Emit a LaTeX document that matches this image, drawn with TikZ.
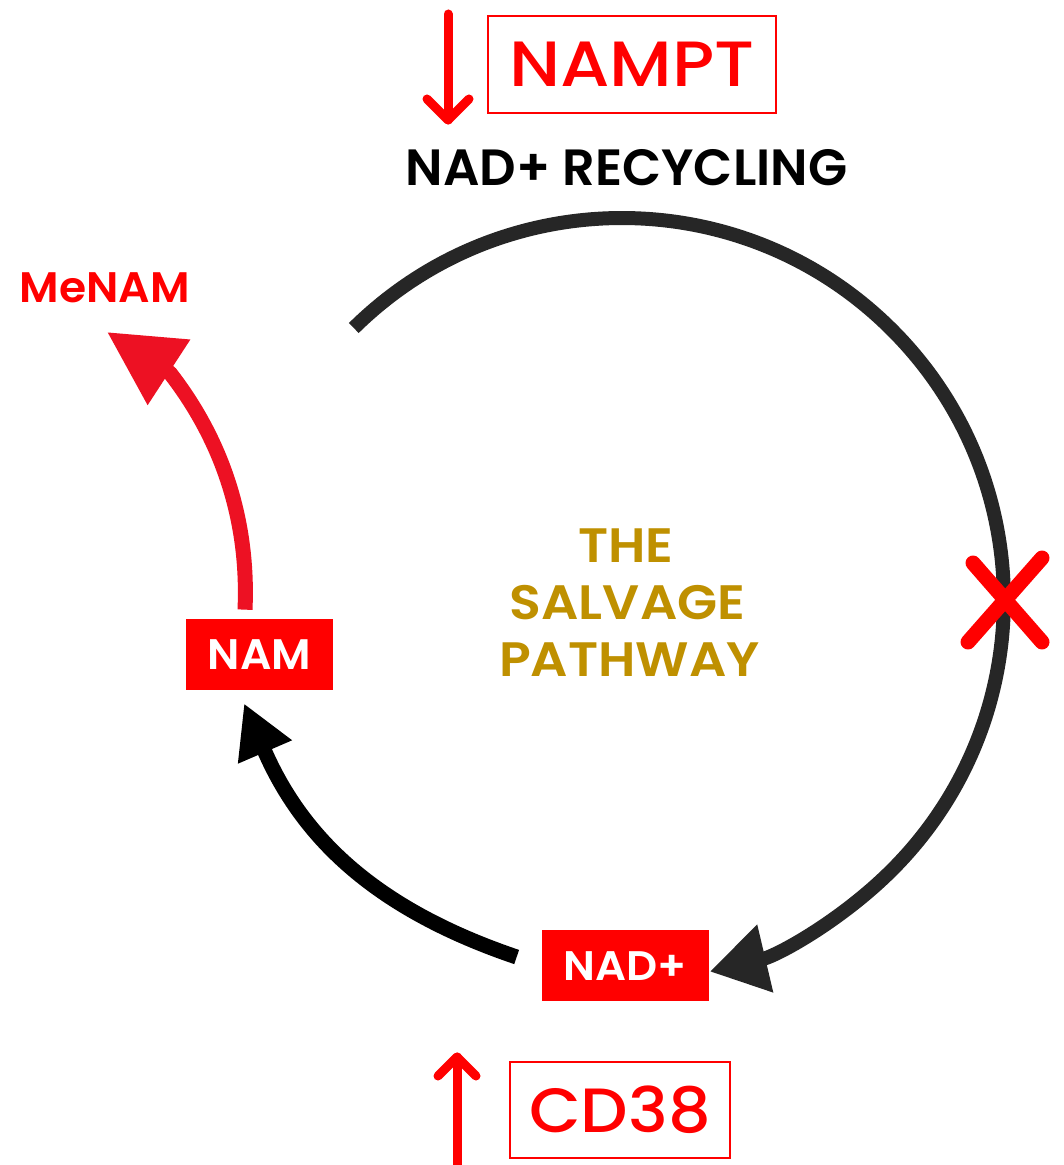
\documentclass[tikz,border=0pt]{standalone}
\usepackage{fontspec}
\setmainfont{Poppins}
\newfontfamily\pmedA{Poppins Medium}[FakeStretch=1.11]
\newfontfamily\pmedB{Poppins Medium}[FakeStretch=1.07]
\newfontfamily\psemi{Poppins SemiBold}
\newfontfamily\psemiA{Poppins SemiBold}[FakeStretch=1.03]
\newfontfamily\psemiB{Poppins SemiBold}[FakeStretch=1.05]
\newfontfamily\psemiG{Poppins SemiBold}[FakeStretch=1.08]
\usetikzlibrary{arrows.meta,calc}
\definecolor{boxred}{RGB}{255,0,0}
\definecolor{arrred}{RGB}{237,17,35}
\definecolor{goldtxt}{RGB}{191,144,0}
\definecolor{darkarc}{RGB}{38,38,38}
\newdimen\pxu \pxu=0.02cm
\newcommand\fsz[1]{\fontsize{#1}{#1}\selectfont}
\begin{document}
\begin{tikzpicture}[x=0.02cm,y=-0.02cm,
  lbl/.style={inner sep=0pt, text depth=0pt},
  outbox/.style={lbl, draw=boxred, line width=1.5\pxu, text=boxred},
  fillbox/.style={lbl, fill=boxred, text=white},
  goldlbl/.style={lbl, text=goldtxt, text height=34\pxu, font=\psemiG\fsz{27.5pt}},
  updown/.style={draw=boxred, line width=9\pxu, line cap=round, line join=round},
  xmark/.style={draw=boxred, line width=15\pxu, line cap=round},
  redarr/.style={draw=arrred, line width=15\pxu, line join=round}
]
\fill[white] (0,0) rectangle (1063,1165);
\useasboundingbox (0,0) rectangle (1063,1165);

% boxes and labels
\node[outbox, minimum width=288\pxu, minimum height=97\pxu, text height=45\pxu,
      font=\pmedA\fsz{36.4pt}] (NAMPT) at (632,64.5) {NAMPT};
\node[lbl, text=black, text height=36\pxu, font=\psemi\fsz{29pt}] (REC) at (626.5,168) {NAD+ RECYCLING};
\node[lbl, text=boxred, text height=30\pxu, font=\psemiA\fsz{24.3pt}] (MeNAM) at (105,288) {MeNAM};
\node[fillbox, minimum width=147\pxu, minimum height=71\pxu, text height=30\pxu,
      font=\psemiA\fsz{24.3pt}] (NAM) at (259.5,654.5) {NAM};
\node[fillbox, minimum width=167\pxu, minimum height=71\pxu, text height=29\pxu,
      font=\psemiB\fsz{23.5pt}] (NAD) at (625.5,965.5) {NAD+};
\node[outbox, minimum width=220\pxu, minimum height=96\pxu, text height=44\pxu,
      font=\pmedB\fsz{35.6pt}] (CD38) at (620,1110) {CD38};
\node[goldlbl] (THE) at (626,545) {THE};
\node[goldlbl] (SALV) at (627.5,602.5) {SALVAGE};
\node[goldlbl] (PATH) at (629.5,659) {PATHWAY};

% down arrow (NAMPT) and up arrow (CD38)
\coordinate (dtop) at (448,14);
\coordinate (dtip) at (448,120);
\draw[updown] (dtop) -- (dtip);
\draw[updown] (427,99) -- (dtip) -- (469,99);
\coordinate (ubot) at (457,1180);
\coordinate (utip) at (457,1057);
\draw[updown] (ubot) -- (utip);
\draw[updown] (438,1076) -- (utip) -- (476,1076);

% recycling arc
\coordinate (recstart) at (353.8,328);
\draw[line width=14\pxu, draw=darkarc, -{Triangle[length=1.14cm, width=1.32cm]}]
  (recstart) arc[start angle=134.6, end angle=-76.7, radius=7.64cm];

% NAD+ -> NAM
\draw[line width=15\pxu, draw=black, -{Triangle[length=1.06cm, width=1.10cm]}]
  ($(NAD.west)+(-25,-8.5)$) .. controls (378,910) and (303,840) .. ($(NAM.south)+(-15.5,13)$);

% NAM -> MeNAM
\coordinate (menamtip) at (107,332);
\draw[redarr, -{Triangle[length=1.48cm, width=1.48cm]}]
  ($(NAM.north)+(-14.5,-9)$) .. controls (249,520) and (222,440) .. (170,373) -- (menamtip);

% blocked mark
\draw[xmark] (973,563) -- (1042,642);
\draw[xmark] (1042,558) -- (968,642);
\end{tikzpicture}
\end{document}
